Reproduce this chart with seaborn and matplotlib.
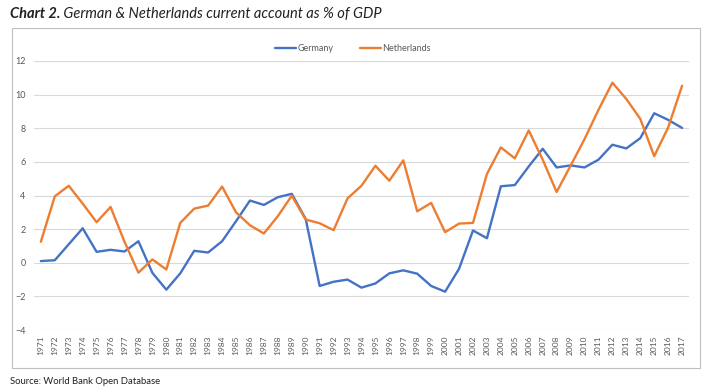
import pandas as pd
import matplotlib
matplotlib.use("Agg")
import matplotlib.pyplot as plt
import seaborn as sns
from matplotlib.patches import Rectangle

# Data (current account, % of GDP)
years = list(range(1971, 2018))

germany = [0.1, 0.15, 1.1, 2.05, 0.65, 0.77, 0.67, 1.28, -0.6, -1.6,
           -0.63, 0.71, 0.61, 1.28, 2.47, 3.7, 3.44, 3.9, 4.1, 2.6,
           -1.38, -1.13, -1.0, -1.48, -1.23, -0.63, -0.45, -0.65, -1.38, -1.72,
           -0.36, 1.92, 1.46, 4.55, 4.62, 5.73, 6.78, 5.67, 5.79, 5.67,
           6.13, 7.02, 6.8, 7.41, 8.89, 8.5, 8.02]

netherlands = [1.25, 3.95, 4.58, 3.52, 2.41, 3.32, 1.25, -0.59, 0.2, -0.4,
               2.37, 3.22, 3.4, 4.53, 3.0, 2.23, 1.74, 2.77, 3.99, 2.57,
               2.35, 1.94, 3.83, 4.58, 5.77, 4.88, 6.09, 3.06, 3.56, 1.82,
               2.33, 2.37, 5.28, 6.86, 6.21, 7.87, 6.13, 4.21, 5.77, 7.35,
               9.09, 10.71, 9.74, 8.56, 6.34, 8.04, 10.53]

df = pd.DataFrame({"Year": years * 2,
                   "Value": germany + netherlands,
                   "Country": ["Germany"] * len(years) + ["Netherlands"] * len(years)})

sns.set_style("white")
plt.rcParams["font.family"] = ["Lato", "DejaVu Sans"]

fig = plt.figure(figsize=(7.06, 3.90), dpi=100)

# outer chart frame
fig.patches.append(Rectangle((0.017, 0.056), 0.9745, 0.872, transform=fig.transFigure,
                             fill=False, edgecolor="#bfbfbf", linewidth=0.8, zorder=0))

ax = fig.add_axes([0.048, 0.1538, 0.928, 0.6898])

sns.lineplot(data=df, x="Year", y="Value", hue="Country",
             palette={"Germany": "#4472C4", "Netherlands": "#ED7D31"},
             linewidth=1.7, ax=ax)

ax.set_xlim(1970.5, 2017.5)
ax.set_ylim(-4, 12)
ax.set_yticks(range(-4, 13, 2))
ax.set_xticks(years)
ax.set_xticklabels([str(y) for y in years], rotation=90, fontsize=6, color="#595959")
ax.tick_params(axis="y", labelsize=6.5, colors="#595959", length=0, pad=6)
ax.tick_params(axis="x", length=0, pad=4)
ax.grid(axis="y", color="#d9d9d9", linewidth=0.8)
ax.set_axisbelow(True)
for s in ax.spines.values():
    s.set_visible(False)
ax.set_xlabel("")
ax.set_ylabel("")

leg = ax.legend(loc="lower center", bbox_to_anchor=(0.487, 1.0), ncol=2, frameon=False,
                fontsize=6.5, handlelength=2.3, columnspacing=3.0, handletextpad=0.1)
for t in leg.get_texts():
    t.set_color("#595959")

# title: bold italic "Chart 2." followed by italic text
t1 = fig.text(0.014, 0.955, "Chart 2.", fontsize=10.5, fontweight="bold", style="italic",
              color="#231f20", va="baseline")
fig.canvas.draw()
bb = t1.get_window_extent()
x2 = bb.x1 / fig.bbox.width
fig.text(x2, 0.955, " German & Netherlands current account as % of GDP", fontsize=10.5,
         style="italic", color="#231f20", va="baseline")
fig.text(0.014, 0.015, "Source: World Bank Open Database", fontsize=6.8, color="#231f20")

fig.savefig("out.png", dpi=100)
